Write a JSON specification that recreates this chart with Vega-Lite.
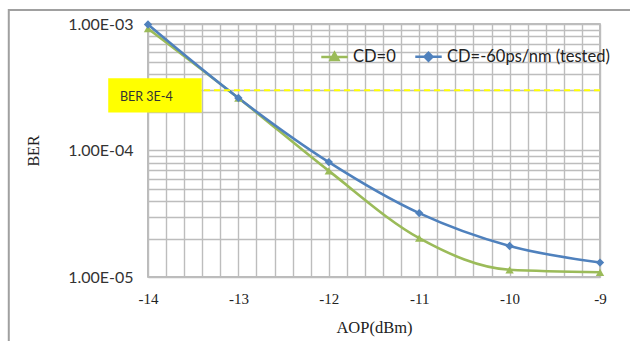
{
  "$schema": "https://vega.github.io/schema/vega-lite/v6.json",
  "width": 452,
  "height": 253,
  "autosize": {"type": "none"},
  "padding": {"left": 148, "top": 24, "right": 30, "bottom": 64},
  "background": "white",
  "config": {
    "view": {"stroke": "#a6a6a6", "strokeWidth": 1.5},
    "axis": {"gridColor": "#bdbdbd", "gridWidth": 1.4, "gridOpacity": 1, "domain": false, "ticks": false},
    "legend": {"labelLimit": 400}
  },
  "datasets": {
    "ber": [
      {"aop": -14, "ber": 0.00092, "series": "CD=0"},
      {"aop": -13, "ber": 0.00026, "series": "CD=0"},
      {"aop": -12, "ber": 0.000069, "series": "CD=0"},
      {"aop": -11, "ber": 0.0000203, "series": "CD=0"},
      {"aop": -10, "ber": 0.0000114, "series": "CD=0"},
      {"aop": -9, "ber": 0.0000109, "series": "CD=0"},
      {"aop": -14, "ber": 0.00099, "series": "CD=-60ps/nm (tested)"},
      {"aop": -13, "ber": 0.00026, "series": "CD=-60ps/nm (tested)"},
      {"aop": -12, "ber": 0.000081, "series": "CD=-60ps/nm (tested)"},
      {"aop": -11, "ber": 0.000032, "series": "CD=-60ps/nm (tested)"},
      {"aop": -10, "ber": 0.0000176, "series": "CD=-60ps/nm (tested)"},
      {"aop": -9, "ber": 0.000013, "series": "CD=-60ps/nm (tested)"}
    ],
    "threshold": [{"ber": 0.0003, "label": "BER 3E-4", "x0": -14.44, "x1": -13.406, "y0": 0.000372, "y1": 0.0002, "tx": -14.31, "ty": 0.000265}],
    "frame": [{"x0": -15.54, "x1": -8.6, "y0": 0.00129, "y1": 0.0000029}]
  },
  "layer": [
    {
      "data": {"name": "ber"},
      "mark": {"type": "line", "interpolate": "monotone", "strokeWidth": 2.6},
      "encoding": {
        "x": {"field": "aop", "type": "quantitative",
          "scale": {"domain": [-14, -9], "nice": false, "zero": false},
          "axis": {
            "values": [-14,-13.8,-13.6,-13.4,-13.2,-13,-12.8,-12.6,-12.4,-12.2,-12,-11.8,-11.6,-11.4,-11.2,-11,-10.8,-10.6,-10.4,-10.2,-10,-9.8,-9.6,-9.4,-9.2,-9],
            "tickCount": 40,
            "labelExpr": "datum.value % 1 == 0 ? '' + datum.value : ''",
            "labelFont": "Liberation Serif", "labelFontSize": 15, "labelColor": "#222", "labelPadding": 14,
            "labelOverlap": false, "labelFlush": false,
            "title": "AOP(dBm)", "titleFont": "Liberation Serif", "titleFontSize": 16.5, "titleFontWeight": "normal", "titleColor": "#222", "titlePadding": 13
          }},
        "y": {"field": "ber", "type": "quantitative",
          "scale": {"type": "log", "domain": [0.00001, 0.001], "nice": false},
          "axis": {
            "values": [0.00001,0.00002,0.00003,0.00004,0.00005,0.00006,0.00007,0.00008,0.00009,0.0001,0.0002,0.0003,0.0004,0.0005,0.0006,0.0007,0.0008,0.0009,0.001],
            "tickCount": 40,
            "labelExpr": "datum.value == 0.001 ? '1.00E-03' : datum.value == 0.0001 ? '1.00E-04' : datum.value == 0.00001 ? '1.00E-05' : ''",
            "labelFont": "Lato", "labelFontSize": 16, "labelColor": "#333", "labelPadding": 15,
            "labelOverlap": false, "labelFlush": false,
            "title": "BER", "titleFont": "Liberation Serif", "titleFontSize": 16, "titleFontWeight": "normal", "titleColor": "#222", "titlePadding": 26
          }},
        "color": {"field": "series", "type": "nominal",
          "scale": {"domain": ["CD=0", "CD=-60ps/nm (tested)"], "range": ["#9bbb59", "#4f81bd"]}, "legend": null}
      }
    },
    {
      "data": {"name": "ber"},
      "mark": {"type": "point", "filled": true, "opacity": 1, "size": 70},
      "encoding": {
        "x": {"field": "aop", "type": "quantitative"},
        "y": {"field": "ber", "type": "quantitative"},
        "color": {"field": "series", "type": "nominal",
          "scale": {"domain": ["CD=0", "CD=-60ps/nm (tested)"], "range": ["#9bbb59", "#4f81bd"]}, "legend": null},
        "shape": {"field": "series", "type": "nominal",
          "scale": {"domain": ["CD=0", "CD=-60ps/nm (tested)"], "range": ["triangle-up", "diamond"]}, "legend": null}
      }
    },
    {
      "data": {"name": "ber"},
      "mark": {"type": "point", "filled": true, "opacity": 0, "strokeWidth": 2.5},
      "encoding": {
        "x": {"field": "aop", "type": "quantitative"},
        "y": {"field": "ber", "type": "quantitative"},
        "fill": {"field": "series", "type": "nominal",
          "scale": {"domain": ["CD=0", "CD=-60ps/nm (tested)"], "range": ["#9bbb59", "#4f81bd"]},
          "legend": {"orient": "none", "legendX": 172, "legendY": 18, "direction": "horizontal", "title": null,
            "labelFont": "Lato", "labelFontSize": 16.5, "labelColor": "#222", "symbolSize": 700, "symbolOpacity": 1,
            "symbolStrokeWidth": 2.5, "columnPadding": 14, "labelOffset": 4, "labelLimit": 400}},
        "stroke": {"field": "series", "type": "nominal",
          "scale": {"domain": ["CD=0", "CD=-60ps/nm (tested)"], "range": ["#9bbb59", "#4f81bd"]},
          "legend": {"orient": "none", "legendX": 172, "legendY": 18, "direction": "horizontal", "title": null,
            "labelFont": "Lato", "labelFontSize": 16.5, "labelColor": "#222", "symbolSize": 700, "symbolOpacity": 1,
            "symbolStrokeWidth": 2.5, "columnPadding": 14, "labelOffset": 4, "labelLimit": 400}},
        "shape": {"field": "series", "type": "nominal",
          "scale": {"domain": ["CD=0", "CD=-60ps/nm (tested)"], "range": ["M-1,0L1,0M0,-0.32L0.3,0.22L-0.3,0.22Z", "M-1,0L1,0M0,-0.3L0.3,0L0,0.3L-0.3,0Z"]},
          "legend": {"orient": "none", "legendX": 172, "legendY": 18, "direction": "horizontal", "title": null,
            "labelFont": "Lato", "labelFontSize": 16.5, "labelColor": "#222", "symbolSize": 700, "symbolOpacity": 1,
            "symbolStrokeWidth": 2.5, "columnPadding": 14, "labelOffset": 4, "labelLimit": 400}}
      }
    },
    {
      "data": {"name": "threshold"},
      "mark": {"type": "rule", "color": "#ffff00", "strokeWidth": 2, "strokeDash": [6, 4]},
      "encoding": {"y": {"field": "ber", "type": "quantitative"}}
    },
    {
      "data": {"name": "threshold"},
      "mark": {"type": "rect", "color": "#ffff00", "clip": false},
      "encoding": {
        "x": {"field": "x0", "type": "quantitative"}, "x2": {"field": "x1"},
        "y": {"field": "y0", "type": "quantitative"}, "y2": {"field": "y1"}
      }
    },
    {
      "data": {"name": "threshold"},
      "mark": {"type": "text", "align": "left", "baseline": "middle", "font": "Lato", "fontSize": 12.5, "color": "#333", "clip": false},
      "encoding": {
        "x": {"field": "tx", "type": "quantitative"},
        "y": {"field": "ty", "type": "quantitative"},
        "text": {"field": "label"}
      }
    },
    {
      "data": {"name": "frame"},
      "mark": {"type": "rect", "fill": null, "fillOpacity": 0, "stroke": "#a0a0a0", "strokeWidth": 2, "clip": false},
      "encoding": {
        "x": {"field": "x0", "type": "quantitative"}, "x2": {"field": "x1"},
        "y": {"field": "y0", "type": "quantitative"}, "y2": {"field": "y1"}
      }
    }
  ],
  "resolve": {"scale": {"shape": "independent", "fill": "independent", "stroke": "independent"}}
}
